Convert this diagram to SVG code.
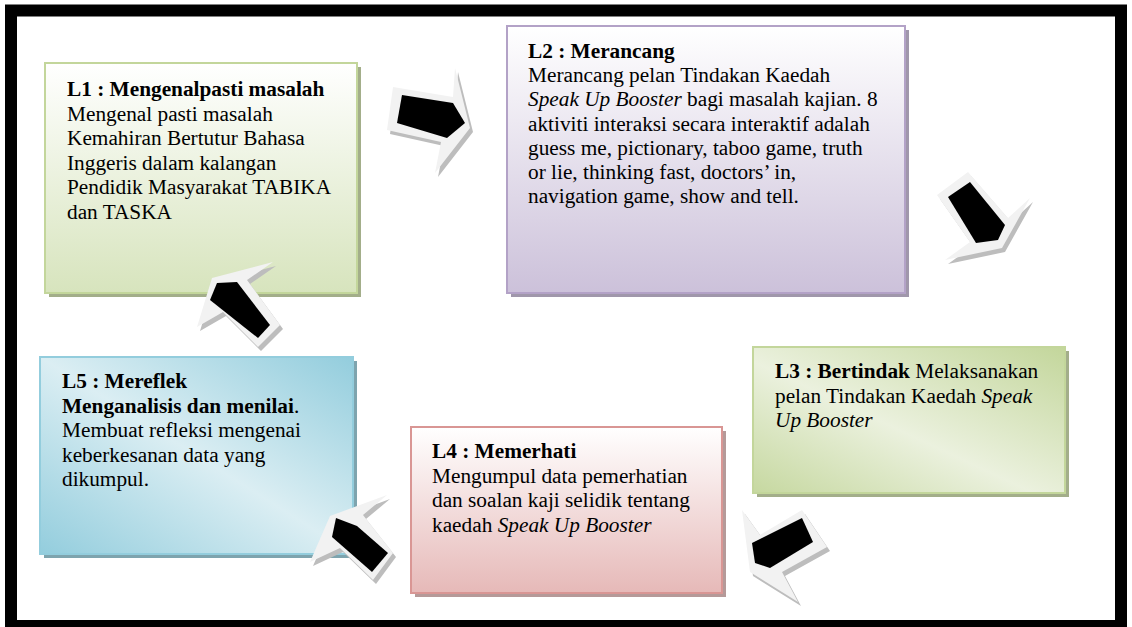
<svg xmlns="http://www.w3.org/2000/svg" width="1132" height="627" viewBox="0 0 1132 627">
<defs>
<linearGradient id="gL1" x1="0" y1="0" x2="0" y2="1"><stop offset="0" stop-color="#ffffff"/><stop offset="1" stop-color="#d7e4bd"/></linearGradient>
<linearGradient id="gL2" x1="0" y1="0" x2="0" y2="1"><stop offset="0" stop-color="#ffffff"/><stop offset="1" stop-color="#ccc1da"/></linearGradient>
<linearGradient id="gL3" x1="1" y1="0" x2="0" y2="1"><stop offset="0" stop-color="#c3d69b"/><stop offset="0.55" stop-color="#ebf1de"/><stop offset="1" stop-color="#c6d8a0"/></linearGradient>
<linearGradient id="gL4" x1="0" y1="0" x2="0" y2="1"><stop offset="0" stop-color="#ffffff"/><stop offset="1" stop-color="#e6b9b8"/></linearGradient>
<linearGradient id="gL5" x1="1" y1="0" x2="0" y2="1"><stop offset="0" stop-color="#93cddd"/><stop offset="0.5" stop-color="#dbeef3"/><stop offset="1" stop-color="#93cddd"/></linearGradient>
</defs>
<style>
text{font-family:"Liberation Serif","Times New Roman",serif;font-size:21.3px;fill:#000}
.b{font-weight:bold}
.i{font-style:italic}
.box{stroke-width:2}
.aw{fill:#f2f2f2}
.as{fill:#bdbdbd}
.ak{fill:#000}
</style>
<rect x="0" y="0" width="1132" height="627" fill="#fff"/>
<rect x="11" y="10.5" width="1110" height="615.5" fill="none" stroke="#000" stroke-width="12"/>

<g id="L1">
<rect x="49" y="67" width="312" height="230" fill="#a3ae8a"/>
<rect class="box" x="45" y="63" width="312" height="230" fill="url(#gL1)" stroke="#c3d69b"/>
<text x="67" y="96"><tspan class="b">L1 : Mengenalpasti masalah</tspan><tspan x="67" dy="24.6">Mengenal pasti masalah</tspan><tspan x="67" dy="24.6">Kemahiran Bertutur Bahasa</tspan><tspan x="67" dy="24.6">Inggeris dalam kalangan</tspan><tspan x="67" dy="24.6">Pendidik Masyarakat TABIKA</tspan><tspan x="67" dy="24.6">dan TASKA</tspan></text>
</g>

<g id="L2">
<rect x="511" y="30" width="398" height="267" fill="#a097ab"/>
<rect class="box" x="507" y="26" width="398" height="267" fill="url(#gL2)" stroke="#b3a2c7"/>
<text x="528" y="58"><tspan class="b">L2 : Merancang</tspan><tspan x="528" dy="24.2">Merancang pelan Tindakan Kaedah</tspan><tspan x="528" dy="24.2" class="i">Speak Up Booster</tspan><tspan> bagi masalah kajian. 8</tspan><tspan x="528" dy="24.2">aktiviti interaksi secara interaktif adalah</tspan><tspan x="528" dy="24.2">guess me, pictionary, taboo game, truth</tspan><tspan x="528" dy="24.2">or lie, thinking fast, doctors’ in,</tspan><tspan x="528" dy="24.2">navigation game, show and tell.</tspan></text>
</g>

<g id="L3">
<rect x="757" y="351" width="312" height="146" fill="#a3ae8a"/>
<rect class="box" x="753" y="347" width="312" height="146" fill="url(#gL3)" stroke="#c3d69b"/>
<text x="775" y="378"><tspan class="b">L3 : Bertindak</tspan><tspan> Melaksanakan</tspan><tspan x="775" dy="24.5">pelan Tindakan Kaedah </tspan><tspan class="i">Speak</tspan><tspan x="775" dy="24.5" class="i">Up Booster</tspan></text>
</g>

<g id="L4">
<rect x="415" y="431" width="311" height="166" fill="#b59a99"/>
<rect class="box" x="411" y="427" width="311" height="166" fill="url(#gL4)" stroke="#d99694"/>
<text x="432" y="458"><tspan class="b">L4 : Memerhati</tspan><tspan x="432" dy="24.5">Mengumpul data pemerhatian</tspan><tspan x="432" dy="24.5">dan soalan kaji selidik tentang</tspan><tspan x="432" dy="24.5">kaedah </tspan><tspan class="i">Speak Up Booster</tspan></text>
</g>

<g id="L5">
<rect x="44" y="361" width="313" height="197" fill="#7ea4ae"/>
<rect class="box" x="40" y="357" width="313" height="197" fill="url(#gL5)" stroke="#93cddd"/>
<text x="62" y="388"><tspan class="b">L5 : Mereflek</tspan><tspan x="62" dy="24.5" class="b">Menganalisis dan menilai</tspan><tspan>.</tspan><tspan x="62" dy="24.5">Membuat refleksi mengenai</tspan><tspan x="62" dy="24.5">keberkesanan data yang</tspan><tspan x="62" dy="24.5">dikumpul.</tspan></text>
</g>

<g id="connectors">
<g id="a1">
<polygon class="as" transform="translate(3,4)" points="393,87 453,97 455,68 470,128 435,173 441,142 387,130"/>
<polygon class="aw" points="393,87 453,97 455,68 470,128 435,173 441,142 387,130"/>
<polygon class="ak" points="402,95 453,103 465,123 447,138 397,123"/>
</g>
<g id="a2">
<polygon class="as" transform="translate(3,4)" points="937,195 968,172 1008,218 1030,198 1002,248 945,260 970,242"/>
<polygon class="aw" points="937,195 968,172 1008,218 1030,198 1002,248 945,260 970,242"/>
<polygon class="ak" points="948,197 970,182 1005,225 998,240 976,243"/>
</g>
<g id="a3">
<polygon class="as" transform="translate(3,4)" points="742,510 760,535 802,510 827,547 782,572 798,602 750,572"/>
<polygon class="aw" points="742,510 760,535 802,510 827,547 782,572 798,602 750,572"/>
<polygon class="ak" points="752,543 802,518 813,542 770,568 755,563"/>
</g>
<g id="a4">
<polygon class="as" transform="translate(3,4)" points="330,516 387,495 363,515 393,553 373,580 340,548 310,562"/>
<polygon class="aw" points="330,516 387,495 363,515 393,553 373,580 340,548 310,562"/>
<polygon class="ak" points="336,518 357,526 388,553 372,572 332,537"/>
</g>
<g id="a5">
<polygon class="as" transform="translate(3,4)" points="212,278 273,262 247,280 280,325 258,347 223,312 197,327"/>
<polygon class="aw" points="212,278 273,262 247,280 280,325 258,347 223,312 197,327"/>
<polygon class="ak" points="217,283 237,282 270,325 258,338 210,300"/>
</g>
</g>
</svg>
